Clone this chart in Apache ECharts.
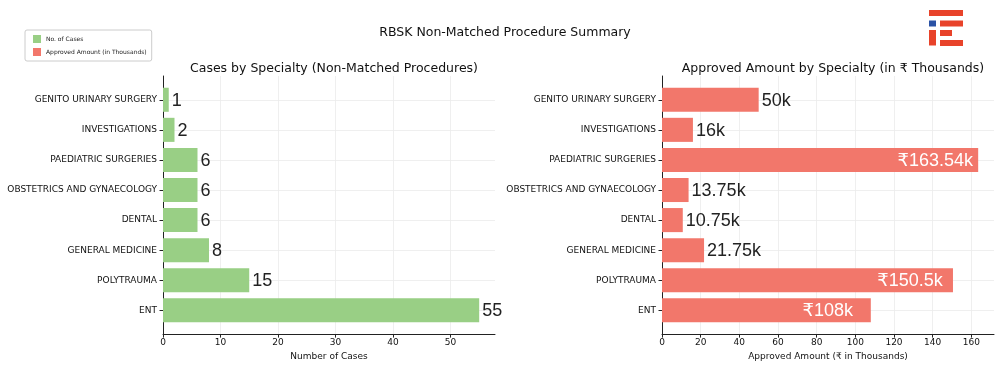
<!DOCTYPE html>
<html>
<head>
<meta charset="utf-8">
<script src="https://cdn.jsdelivr.net/npm/echarts@6/dist/echarts.min.js"></script>
<style>html,body{margin:0;padding:0;background:#fff}#c{width:1000px;height:366px}</style>
</head>
<body>
<div id="c"></div>
<script>
const categories = ['GENITO URINARY SURGERY','INVESTIGATIONS','PAEDIATRIC SURGERIES','OBSTETRICS AND GYNAECOLOGY','DENTAL','GENERAL MEDICINE','POLYTRAUMA','ENT'];
const caseValues = [1, 2, 6, 6, 6, 8, 15, 55];
const amountValues = [50, 16, 163.54, 13.75, 10.75, 21.75, 150.5, 108];
const caseLabels = ['1','2','6','6','6','8','15','55'];
const amountLabels = ['50k','16k','₹163.54k','13.75k','10.75k','21.75k','₹150.5k','₹108k'];
const caseTicks = [0, 10, 20, 30, 40, 50];
const amountTicks = [0, 20, 40, 60, 80, 100, 120, 140, 160];
const categoryIndex = categories.map((c, i) => i);

const FONT = 'DejaVu Sans';
const BIGFONT = '"Liberation Sans", "DejaVu Sans"';
const GREEN = '#99cf85';
const RED = '#f2776b';

const chart = echarts.init(document.getElementById('c'));

function makeRender(values, labels, color) {
  const maxV = Math.max(...values);
  return function (params, api) {
    const i = params.dataIndex;
    const v = api.value(0), cat = api.value(1);
    const start = api.coord([0, cat]);
    const end = api.coord([v, cat]);
    const h = Math.abs(api.size([0, 0.8])[1]);
    const inside = v > 0.5 * maxV && color === RED;
    return {
      type: 'group',
      children: [
        { type: 'rect', shape: { x: start[0], y: start[1] - h / 2, width: end[0] - start[0], height: h }, style: { fill: color } },
        { type: 'text', style: {
            text: labels[i], x: inside ? end[0] - 43 : end[0] + 3, y: end[1] + 1,
            fill: inside ? '#ffffff' : '#222222', fontSize: 18, fontFamily: BIGFONT,
            align: inside ? 'center' : 'left', verticalAlign: 'middle' } }
      ]
    };
  };
}

const yMin = -0.79, yMax = categories.length - 1 + 0.79;

function yAxisCfg(gi) {
  return {
    type: 'value', gridIndex: gi, inverse: true, min: yMin, max: yMax,
    axisLine: { show: true, onZero: false, lineStyle: { color: '#222', width: 1 } },
    axisTick: { show: true, length: 3.5, customValues: categoryIndex, lineStyle: { color: '#222' } },
    axisLabel: { customValues: categoryIndex, formatter: v => categories[Math.round(v)], fontSize: 9, fontFamily: FONT, color: '#111', margin: 6 },
    splitLine: { show: true, lineStyle: { color: '#ebebeb', width: 0.8 } }
  };
}
function xAxisCfg(gi, max, ticks, name) {
  return {
    type: 'value', gridIndex: gi, min: 0, max: max,
    name: name, nameLocation: 'middle', nameGap: 14,
    nameTextStyle: { fontSize: 9, fontFamily: FONT, color: '#111' },
    axisLine: { show: true, onZero: false, lineStyle: { color: '#222', width: 1 } },
    axisTick: { show: true, length: 3.5, customValues: ticks, lineStyle: { color: '#222' } },
    axisLabel: { customValues: ticks, fontSize: 9, fontFamily: FONT, color: '#111', margin: 4 },
    splitLine: { show: true, lineStyle: { color: '#ebebeb', width: 0.8 } }
  };
}

const option = {
  backgroundColor: '#fff',
  animation: false,
  title: [
    { text: 'RBSK Non-Matched Procedure Summary', left: 500, top: 21, textAlign: 'center', textStyle: { fontSize: 12.5, fontWeight: 'normal', fontFamily: FONT, color: '#111' } },
    { text: 'Cases by Specialty (Non-Matched Procedures)', left: 329, top: 57, textAlign: 'center', textStyle: { fontSize: 12.5, fontWeight: 'normal', fontFamily: FONT, color: '#111' } },
    { text: 'Approved Amount by Specialty (in ₹ Thousands)', left: 828, top: 57, textAlign: 'center', textStyle: { fontSize: 12.5, fontWeight: 'normal', fontFamily: FONT, color: '#111' } }
  ],
  legend: {
    orient: 'vertical', left: 25, top: 30, padding: [5, 5, 5, 8], itemGap: 5,
    itemWidth: 8, itemHeight: 8, icon: 'rect',
    borderColor: '#cccccc', borderWidth: 1, borderRadius: 2,
    textStyle: { fontSize: 6, fontFamily: FONT, color: '#222' },
    data: ['No. of Cases', 'Approved Amount (in Thousands)']
  },
  grid: [
    { left: 163, top: 76, width: 332, height: 261 },
    { left: 662, top: 76, width: 332, height: 261 }
  ],
  xAxis: [
    xAxisCfg(0, 57.75, caseTicks, 'Number of Cases'),
    xAxisCfg(1, 171.72, amountTicks, 'Approved Amount (₹ in Thousands)')
  ],
  yAxis: [yAxisCfg(0), yAxisCfg(1)],
  graphic: [
    { type: 'rect', shape: { x: 929, y: 10, width: 34, height: 6 }, style: { fill: '#e8432a' } },
    { type: 'rect', shape: { x: 929, y: 20.5, width: 7, height: 6 }, style: { fill: '#2b52a5' } },
    { type: 'rect', shape: { x: 940, y: 20.5, width: 23, height: 6 }, style: { fill: '#e8432a' } },
    { type: 'rect', shape: { x: 929, y: 30, width: 7, height: 15.5 }, style: { fill: '#e8432a' } },
    { type: 'rect', shape: { x: 940, y: 30, width: 12, height: 6 }, style: { fill: '#e8432a' } },
    { type: 'rect', shape: { x: 940, y: 40, width: 23, height: 6 }, style: { fill: '#e8432a' } }
  ],
  series: [
    { name: 'No. of Cases', type: 'custom', xAxisIndex: 0, yAxisIndex: 0, itemStyle: { color: GREEN },
      renderItem: makeRender(caseValues, caseLabels, GREEN),
      data: caseValues.map((v, i) => [v, i]) },
    { name: 'Approved Amount (in Thousands)', type: 'custom', xAxisIndex: 1, yAxisIndex: 1, itemStyle: { color: RED },
      renderItem: makeRender(amountValues, amountLabels, RED),
      data: amountValues.map((v, i) => [v, i]) }
  ]
};
chart.setOption(option);
</script>
</body>
</html>
